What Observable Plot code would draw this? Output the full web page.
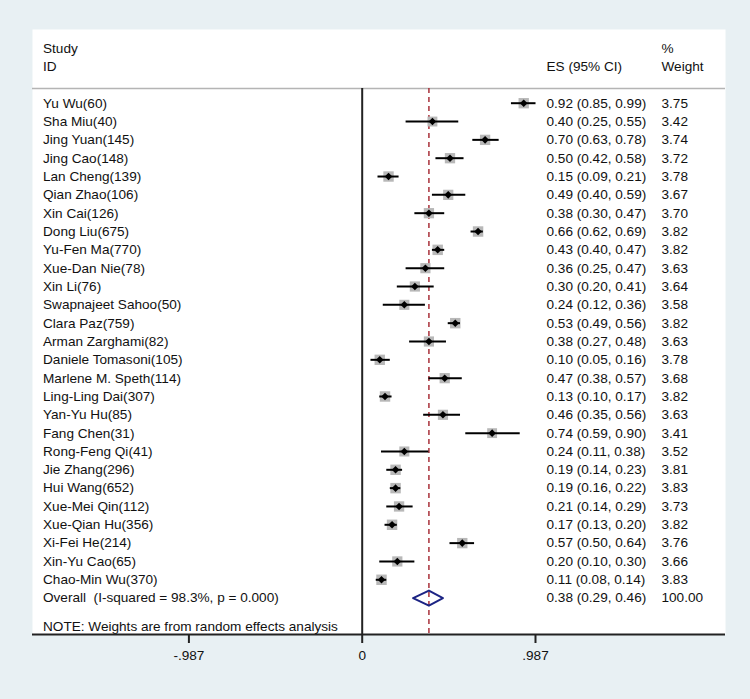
<!DOCTYPE html>
<html>
<head>
<meta charset="utf-8">
<script src="https://cdn.jsdelivr.net/npm/d3@7"></script>
<script src="https://cdn.jsdelivr.net/npm/@observablehq/plot@0.6"></script>
<style>
  html, body { margin: 0; padding: 0; background: #e8f0f3; }
  #chart svg { display: block; }
</style>
</head>
<body>
<div id="chart"></div>
<script>
const studies = ["Yu Wu(60)","Sha Miu(40)","Jing Yuan(145)","Jing Cao(148)","Lan Cheng(139)","Qian Zhao(106)","Xin Cai(126)","Dong Liu(675)","Yu-Fen Ma(770)","Xue-Dan Nie(78)","Xin Li(76)","Swapnajeet Sahoo(50)","Clara Paz(759)","Arman Zarghami(82)","Daniele Tomasoni(105)","Marlene M. Speth(114)","Ling-Ling Dai(307)","Yan-Yu Hu(85)","Fang Chen(31)","Rong-Feng Qi(41)","Jie Zhang(296)","Hui Wang(652)","Xue-Mei Qin(112)","Xue-Qian Hu(356)","Xi-Fei He(214)","Xin-Yu Cao(65)","Chao-Min Wu(370)"];
const es    = [0.92,0.40,0.70,0.50,0.15,0.49,0.38,0.66,0.43,0.36,0.30,0.24,0.53,0.38,0.10,0.47,0.13,0.46,0.74,0.24,0.19,0.19,0.21,0.17,0.57,0.20,0.11];
const lower = [0.85,0.25,0.63,0.42,0.09,0.40,0.30,0.62,0.40,0.25,0.20,0.12,0.49,0.27,0.05,0.38,0.10,0.35,0.59,0.11,0.14,0.16,0.14,0.13,0.50,0.10,0.08];
const upper = [0.99,0.55,0.78,0.58,0.21,0.59,0.47,0.69,0.47,0.47,0.41,0.36,0.56,0.48,0.16,0.57,0.17,0.56,0.90,0.38,0.23,0.22,0.29,0.20,0.64,0.30,0.14];
const weight = [3.75,3.42,3.74,3.72,3.78,3.67,3.70,3.82,3.82,3.63,3.64,3.58,3.82,3.63,3.78,3.68,3.82,3.63,3.41,3.52,3.81,3.83,3.73,3.82,3.76,3.66,3.83];

const overallLabel = "Overall\u00a0 (I-squared = 98.3%, p = 0.000)";
const overallES = 0.38, overallLo = 0.29, overallHi = 0.46, overallWeight = "100.00";
const noteText = "NOTE: Weights are from random effects analysis";
const tickValues = [-0.987, 0, 0.987];
const tickLabels = ["-.987", "0", ".987"];

const fmt = v => v.toFixed(2);
const rows = studies.map((s, i) => ({
  i, study: s, es: es[i], lo: lower[i], hi: upper[i], w: weight[i],
  esText: `${fmt(es[i])} (${fmt(lower[i])}, ${fmt(upper[i])})`,
  wText: fmt(weight[i])
}));
const overallRow = studies.length;
const noteRow = overallRow + 1.55;
const headerTop = -3, headerBottom = -2, sepRow = -0.8;
const yTop = -4.021, yBottom = 28.985;

const diamond = [
  {x: overallLo, y: overallRow},
  {x: overallES, y: overallRow - 0.41},
  {x: overallHi, y: overallRow},
  {x: overallES, y: overallRow + 0.41},
  {x: overallLo, y: overallRow}
];

const font = "Liberation Sans, Arial, Helvetica, sans-serif";
const txt = "#111";
const fs = 13.6;

const textRows = [
  ...rows.map(r => ({y: r.i, a: r.study, b: r.esText, c: r.wText})),
  {y: overallRow, a: overallLabel, b: `${fmt(overallES)} (${fmt(overallLo)}, ${fmt(overallHi)})`, c: overallWeight}
];

const chart = Plot.plot({
  width: 750,
  height: 699,
  marginLeft: 32,
  marginRight: 25,
  marginTop: 29,
  marginBottom: 65,
  style: {background: "#e8f0f3", fontFamily: font, fontSize: fs + "px", color: txt},
  x: {domain: [-1.8778, 2.0692], axis: null},
  y: {domain: [yBottom, yTop], axis: null},
  r: {type: "sqrt", domain: [0, 3.83], range: [0, 5.9]},
  marks: [
    Plot.frame({fill: "white", stroke: null}),
    Plot.ruleY([sepRow], {stroke: "#b4b4b4", strokeWidth: 1.5}),
    Plot.ruleX([0], {y1: sepRow, y2: yBottom, stroke: "#222", strokeWidth: 2}),
    Plot.ruleX([overallES], {y1: sepRow, y2: yBottom, stroke: "#a8303a", strokeWidth: 1.5, strokeDasharray: "5,4"}),
    Plot.dot(rows, {x: "es", y: "i", r: "w", symbol: "square", fill: "#b8b8b8", stroke: null}),
    Plot.ruleY(rows, {y: "i", x1: "lo", x2: "hi", stroke: "black", strokeWidth: 2}),
    Plot.dot(rows, {x: "es", y: "i", r: 3.4, symbol: "diamond2", fill: "black", stroke: null}),
    Plot.line(diamond, {x: "x", y: "y", stroke: "#1c2484", strokeWidth: 2}),
    Plot.text(textRows, {y: "y", text: "a", frameAnchor: "left", dx: 10.5, textAnchor: "start", fill: txt, fontSize: fs}),
    Plot.text(textRows, {y: "y", text: "b", frameAnchor: "right", dx: -179, textAnchor: "start", fill: txt, fontSize: fs}),
    Plot.text(textRows, {y: "y", text: "c", frameAnchor: "right", dx: -64, textAnchor: "start", fill: txt, fontSize: fs}),
    Plot.text(["Study"], {y: headerTop, text: d => d, frameAnchor: "left", dx: 10.5, textAnchor: "start", fill: txt, fontSize: fs}),
    Plot.text(["ID"], {y: headerBottom, text: d => d, frameAnchor: "left", dx: 10.5, textAnchor: "start", fill: txt, fontSize: fs}),
    Plot.text(["ES (95% CI)"], {y: headerBottom, text: d => d, frameAnchor: "right", dx: -179, textAnchor: "start", fill: txt, fontSize: fs}),
    Plot.text(["%"], {y: headerTop, text: d => d, frameAnchor: "right", dx: -64, textAnchor: "start", fill: txt, fontSize: fs}),
    Plot.text(["Weight"], {y: headerBottom, text: d => d, frameAnchor: "right", dx: -64, textAnchor: "start", fill: txt, fontSize: fs}),
    Plot.text([noteText], {y: noteRow, text: d => d, frameAnchor: "left", dx: 10.5, textAnchor: "start", fill: txt, fontSize: fs}),
    Plot.ruleY([yBottom], {stroke: "#222", strokeWidth: 2}),
    Plot.axisX({ticks: tickValues, tickFormat: d => tickLabels[tickValues.indexOf(d)], tickSize: 9, tickPadding: 7, stroke: "#222", strokeWidth: 2, fill: txt, fontSize: fs, label: null})
  ]
});
document.getElementById("chart").appendChild(chart);
</script>
</body>
</html>
